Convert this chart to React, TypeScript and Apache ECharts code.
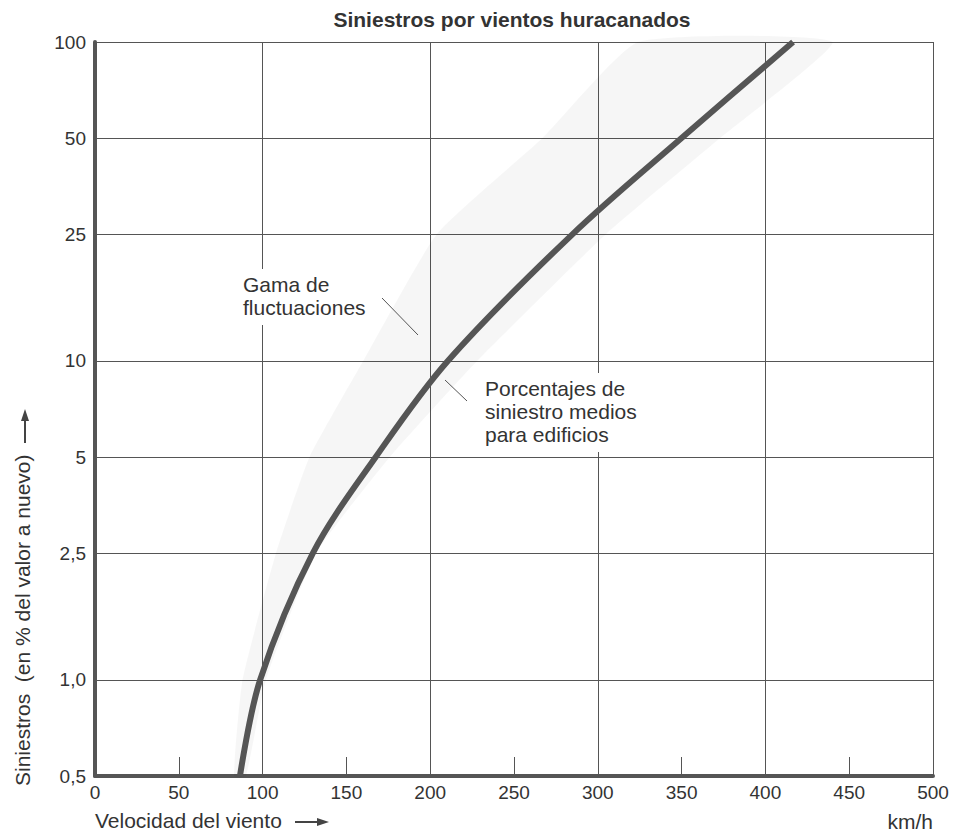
import React, { useEffect, useRef } from "react";
import * as echarts from "echarts";

// ---- data ----
const yTickValues = [0.5, 1, 2.5, 5, 10, 25, 50, 100];
const yTickLabels = ["0,5", "1,0", "2,5", "5", "10", "25", "50", "100"];

// mean damage curve (wind speed km/h, damage % of new value)
const curveSpeed = [86.5, 98.5, 130, 167.5, 210.5, 285, 350, 416.5];
const curveLoss = [0.5, 1.0, 2.5, 5, 10, 25, 50, 100];

// fluctuation band
const bandLoss = [0.5, 1, 2.5, 5, 10, 25, 50, 100];
const bandSpeedLow = [83, 88, 108, 128, 160, 204, 267, 324];
const bandSpeedHigh = [90, 102, 132, 176, 228, 305, 373, 440];

const FONT = "'Liberation Sans', Arial, Helvetica, sans-serif";
const TXT = "#333";

export default function App() {
  const ref = useRef<HTMLDivElement>(null);
  useEffect(() => {
    if (!ref.current) return;
    const chart = echarts.init(ref.current, null, { renderer: "svg" });
    const curveData = curveSpeed.map((x, i) => [x, curveLoss[i]]);
    const option: any = {
      animation: false,
      backgroundColor: "#fff",
      grid: { left: 95, right: 34, top: 42, bottom: 56, outerBoundsMode: "none", containLabel: false },
      xAxis: [
        {
          type: "value",
          min: 0,
          max: 500,
          interval: 50,
          axisLine: { show: true, onZero: false, lineStyle: { color: "#555", width: 4 } },
          axisTick: { show: true, inside: true, length: 19, lineStyle: { color: "#555", width: 1 } },
          axisLabel: { fontSize: 19, fontFamily: FONT, color: TXT, margin: 7, hideOverlap: false },
          splitLine: { show: false },
        },
        {
          type: "value",
          min: 0,
          max: 500,
          interval: 100,
          position: "bottom",
          axisLine: { show: false },
          axisTick: { show: false },
          axisLabel: { show: false },
          splitLine: { show: true, lineStyle: { color: "#555", width: 1 } },
        },
      ],
      yAxis: {
        type: "log",
        logBase: 10,
        min: 0.5,
        max: 100,
        axisLine: { show: true, onZero: false, lineStyle: { color: "#555", width: 4 } },
        axisTick: { show: false, customValues: yTickValues },
        axisLabel: {
          customValues: yTickValues,
          fontSize: 19,
          fontFamily: FONT,
          color: TXT,
          margin: 9,
          hideOverlap: false,
          formatter: (v: number) => {
            const i = yTickValues.findIndex((t) => Math.abs(t - v) < 1e-6 * Math.max(1, t));
            return i >= 0 ? yTickLabels[i] : "";
          },
        },
        splitLine: { show: true, lineStyle: { color: "#555", width: 1 } },
      },
      series: [
        {
          type: "custom",
          xAxisIndex: 0,
          z: 1,
          silent: true,
          data: [[100, 1]],
          renderItem: (_params: any, api: any) => {
            const pts: number[][] = [];
            bandLoss.forEach((y, i) => pts.push(api.coord([bandSpeedLow[i], y])));
            for (let i = bandLoss.length - 1; i >= 0; i--) pts.push(api.coord([bandSpeedHigh[i], bandLoss[i]]));
            return {
              type: "polygon",
              shape: { points: pts, smooth: 0.15 },
              style: { fill: "rgba(0,0,0,0.035)", stroke: "none" },
            };
          },
        },
        {
          type: "line",
          xAxisIndex: 0,
          z: 3,
          data: curveData,
          smooth: 0.33,
          showSymbol: false,
          symbol: "none",
          lineStyle: { color: "#555", width: 6, cap: "butt" },
        },
      ],
      graphic: [
        {
          type: "text",
          x: 512,
          y: 9,
          z: 10,
          style: {
            text: "Siniestros por vientos huracanados",
            fontFamily: FONT,
            fontSize: 21,
            fontWeight: "bold",
            fill: TXT,
            textAlign: "center",
            textVerticalAlign: "top",
          },
        },
        {
          type: "text",
          x: 22,
          y: 786,
          rotation: Math.PI / 2,
          z: 10,
          style: {
            text: "Siniestros  (en % del valor a nuevo)",
            fontFamily: FONT,
            fontSize: 21,
            fill: TXT,
            textAlign: "left",
            textVerticalAlign: "middle",
          },
        },
        { type: "line", z: 10, shape: { x1: 25, y1: 443, x2: 25, y2: 418 }, style: { stroke: "#444", lineWidth: 2 } },
        { type: "polygon", z: 10, shape: { points: [[21, 421], [25, 409], [29, 421]] }, style: { fill: "#444" } },
        {
          type: "text",
          x: 95,
          y: 820,
          z: 10,
          style: {
            text: "Velocidad del viento",
            fontFamily: FONT,
            fontSize: 21,
            fill: TXT,
            textAlign: "left",
            textVerticalAlign: "middle",
          },
        },
        { type: "line", z: 10, shape: { x1: 295, y1: 822, x2: 320, y2: 822 }, style: { stroke: "#444", lineWidth: 2 } },
        { type: "polygon", z: 10, shape: { points: [[317, 818], [329, 822], [317, 826]] }, style: { fill: "#444" } },
        {
          type: "text",
          x: 933,
          y: 821,
          z: 10,
          style: {
            text: "km/h",
            fontFamily: FONT,
            fontSize: 21,
            fill: TXT,
            textAlign: "right",
            textVerticalAlign: "middle",
          },
        },
        {
          type: "text",
          x: 242,
          y: 269,
          z: 10,
          style: {
            text: "Gama de\nfluctuaciones",
            fontFamily: FONT,
            fontSize: 21,
            lineHeight: 23,
            fill: TXT,
            textAlign: "left",
            textVerticalAlign: "top",
            backgroundColor: "#fff",
            padding: [4, 2, 6, 1],
          },
        },
        { type: "line", z: 10, shape: { x1: 382, y1: 298, x2: 418, y2: 335 }, style: { stroke: "#555", lineWidth: 1 } },
        {
          type: "text",
          x: 484,
          y: 373,
          z: 10,
          style: {
            text: "Porcentajes de\nsiniestro medios\npara edificios",
            fontFamily: FONT,
            fontSize: 21,
            lineHeight: 23,
            fill: TXT,
            textAlign: "left",
            textVerticalAlign: "top",
            backgroundColor: "#fff",
            padding: [4, 2, 6, 1],
          },
        },
        { type: "line", z: 10, shape: { x1: 445, y1: 380, x2: 467, y2: 401 }, style: { stroke: "#555", lineWidth: 1 } },
      ],
    };
    chart.setOption(option);
    return () => chart.dispose();
  }, []);
  return <div ref={ref} style={{ position: "fixed", left: 0, top: 0, width: 967, height: 832 }} />;
}
